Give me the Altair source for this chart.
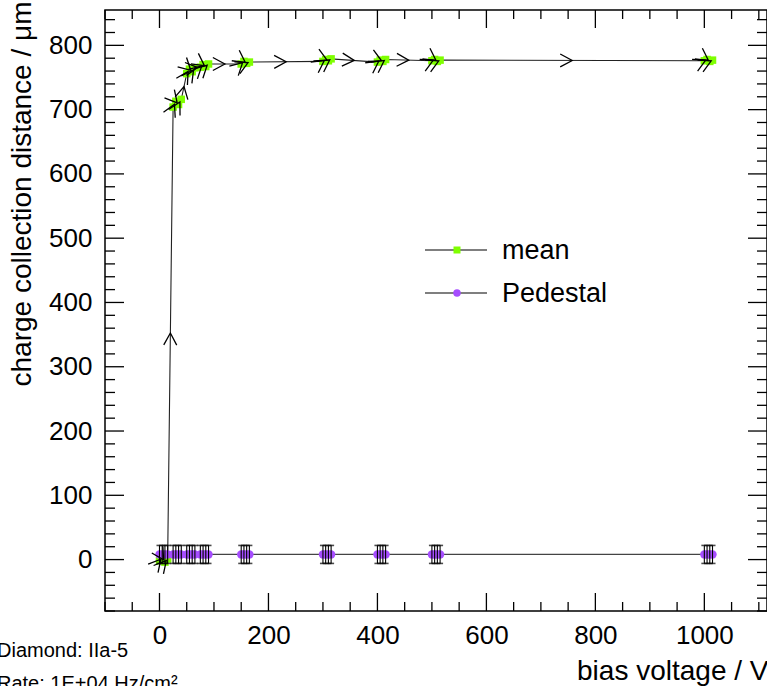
import math
import altair as alt
import pandas as pd

# ---------------- data ----------------
mean_voltage = [0, 5, 10, 15, 25, 30, 35, 40, 50, 55, 60, 65, 75, 80, 85, 90,
                150, 155, 160, 165, 300, 305, 310, 315, 400, 405, 410, 415,
                500, 505, 510, 515, 1000, 1005, 1010, 1015]
mean_ccd = [-2, 3, -4, 1, 704, 713, 708, 716, 756, 763, 759, 765,
            766, 770, 767, 771, 771, 775, 772, 774, 775, 778, 776, 779,
            774, 777, 775, 778, 776, 778, 775, 777, 776, 778, 775, 777]

ped_voltage = [0, 5, 10, 15, 25, 30, 35, 40, 50, 55, 60, 65, 75, 80, 85, 90,
               150, 155, 160, 165, 300, 305, 310, 315, 400, 405, 410, 415,
               500, 505, 510, 515, 1000, 1005, 1010, 1015]
ped_ccd = [8, 8, 8, 8, 8, 8, 8, 8, 8, 8, 8, 8, 8, 8, 8, 8, 8, 8, 8, 8,
           8, 8, 8, 8, 8, 8, 8, 8, 8, 8, 8, 8, 8, 8, 8, 8]
ped_err = [14] * 36

x_major = [0, 200, 400, 600, 800, 1000]
x_minor = [-100, -50, 50, 100, 150, 250, 300, 350, 450, 500, 550, 650, 700,
           750, 850, 900, 950, 1050, 1100]
y_major = [0, 100, 200, 300, 400, 500, 600, 700, 800]
y_minor = [v for v in range(-80, 855, 20) if v % 100 != 0]

legend_labels = ["mean", "Pedestal"]
info_lines = ["Diamond: IIa-5", "Rate: 1E+04 Hz/cm²"]

# ---------------- layout / style ----------------
W, H = 662, 601
XDOM = [-100, 1115]
YDOM = [-80, 855]
FONT = "Liberation Sans"
GREEN = "#7fff00"
PURPLE = "#a64dff"
LINE = "#222222"

xs = alt.Scale(domain=XDOM, nice=False, zero=False)
ys = alt.Scale(domain=YDOM, nice=False, zero=False)

x_axis = alt.Axis(values=x_major, ticks=False, domain=False, grid=False,
                  labelFont=FONT, labelFontSize=26, labelColor="black",
                  labelPadding=11, labelOverlap=False, labelFlush=False,
                  format="d",
                  title="bias voltage / V", titleFont=FONT, titleFontSize=28,
                  titleFontWeight="normal", titleColor="black",
                  titleX=W + 1, titleY=68, titleAlign="right",
                  titleBaseline="alphabetic")
y_axis = alt.Axis(values=y_major, ticks=False, domain=False, grid=False,
                  labelFont=FONT, labelFontSize=26, labelColor="black",
                  labelPadding=13, labelOverlap=False, labelFlush=False,
                  format="d",
                  title="charge collection distance / μm", titleFont=FONT,
                  titleFontSize=28, titleFontWeight="normal",
                  titleColor="black", titleAngle=270, titleX=-75, titleY=-9,
                  titleAlign="right", titleBaseline="alphabetic")

X = alt.X("v:Q", scale=xs, axis=x_axis)
Y = alt.Y("c:Q", scale=ys, axis=y_axis)

mean_df = pd.DataFrame({"v": mean_voltage, "c": mean_ccd,
                        "i": list(range(len(mean_voltage)))})
ped_df = pd.DataFrame({"v": ped_voltage, "c": ped_ccd,
                       "lo": [c - e for c, e in zip(ped_ccd, ped_err)],
                       "hi": [c + e for c, e in zip(ped_ccd, ped_err)],
                       "i": list(range(len(ped_voltage)))})

# arrowheads at segment midpoints (direction from data, in pixel space)
sx = W / (XDOM[1] - XDOM[0])
sy = H / (YDOM[1] - YDOM[0])
arr = []
for k in range(len(mean_voltage) - 1):
    x0, y0 = mean_voltage[k], mean_ccd[k]
    x1, y1 = mean_voltage[k + 1], mean_ccd[k + 1]
    ang = math.degrees(math.atan2(-(y1 - y0) * sy, (x1 - x0) * sx)) % 360
    arr.append({"v": (x0 + x1) / 2, "c": (y0 + y1) / 2, "a": ang})
arr_df = pd.DataFrame(arr)

mean_line = alt.Chart(mean_df).mark_line(color=LINE, strokeWidth=1.1).encode(
    x=X, y=Y, order="i:Q")
ped_line = alt.Chart(ped_df).mark_line(color="#444444", strokeWidth=1.3).encode(
    x=X, y=Y, order="i:Q")
mean_pts = alt.Chart(mean_df).mark_square(size=56, color=GREEN, opacity=1).encode(
    x=X, y=Y)
ped_pts = alt.Chart(ped_df).mark_circle(size=70, color=PURPLE, opacity=1).encode(
    x=X, y=Y)
ped_bar = alt.Chart(ped_df).mark_rule(color="black", strokeWidth=1.1).encode(
    x=X, y=alt.Y("lo:Q", scale=ys, axis=y_axis), y2="hi:Q")
ped_cap_lo = alt.Chart(ped_df).mark_tick(color="black", orient="horizontal",
                                         size=6, thickness=1.6).encode(
    x=X, y=alt.Y("lo:Q", scale=ys, axis=y_axis))
ped_cap_hi = alt.Chart(ped_df).mark_tick(color="black", orient="horizontal",
                                         size=6, thickness=1.6).encode(
    x=X, y=alt.Y("hi:Q", scale=ys, axis=y_axis))
arrows = alt.Chart(arr_df).mark_point(
    shape="M -1 -0.54 L 0 0 L -1 0.54", filled=False, stroke="black",
    strokeWidth=1.3, size=576, opacity=1).encode(
    x=X, y=Y, angle=alt.Angle("a:Q", scale=None))


def tick_layers(values, length):
    df = pd.DataFrame({"t": values})
    xb = alt.Chart(df).mark_rule(color="black", strokeWidth=1.3).encode(
        x=alt.X("t:Q", scale=xs, axis=x_axis), y=alt.value(H), y2=alt.value(H - length))
    xt = alt.Chart(df).mark_rule(color="black", strokeWidth=1.3).encode(
        x=alt.X("t:Q", scale=xs, axis=x_axis), y=alt.value(0), y2=alt.value(length))
    return [xb, xt]


def ytick_layers(values, length):
    df = pd.DataFrame({"t": values})
    yl = alt.Chart(df).mark_rule(color="black", strokeWidth=1.3).encode(
        y=alt.Y("t:Q", scale=ys, axis=y_axis), x=alt.value(0), x2=alt.value(length))
    yr = alt.Chart(df).mark_rule(color="black", strokeWidth=1.3).encode(
        y=alt.Y("t:Q", scale=ys, axis=y_axis), x=alt.value(W), x2=alt.value(W - length))
    return [yl, yr]


ticks = (tick_layers(x_major, 18) + tick_layers(x_minor, 9)
         + ytick_layers(y_major, 19) + ytick_layers(y_minor, 10))

# legend (manual, ROOT style)
legend_layers = []
leg_colors = [GREEN, PURPLE]
for k, lab in enumerate(legend_labels):
    ypix = 240 + 43 * k
    d = pd.DataFrame({"label": [lab]})
    legend_layers.append(alt.Chart(d).mark_rule(color="black", strokeWidth=1.2).encode(
        x=alt.value(320), x2=alt.value(382), y=alt.value(ypix)))
    if k == 0:
        mk = alt.Chart(d).mark_square(size=49, color=leg_colors[k], opacity=1)
    else:
        mk = alt.Chart(d).mark_circle(size=56, color=leg_colors[k], opacity=1)
    legend_layers.append(mk.encode(x=alt.value(352), y=alt.value(ypix)))
    legend_layers.append(alt.Chart(d).mark_text(
        align="left", baseline="middle", font=FONT, fontSize=27,
        color="black").encode(x=alt.value(397), y=alt.value(ypix + 1),
                              text="label:N"))

info_layers = []
for k, line in enumerate(info_lines):
    d = pd.DataFrame({"t": [line]})
    info_layers.append(alt.Chart(d).mark_text(
        align="left", baseline="alphabetic", font=FONT, fontSize=20,
        color="black").encode(x=alt.value(-108), y=alt.value(647 + 33 * k),
                              text="t:N"))

chart = alt.layer(
    mean_line, ped_line, mean_pts, ped_pts, ped_bar, ped_cap_lo, ped_cap_hi,
    arrows, *ticks, *legend_layers, *info_layers
).properties(
    width=W, height=H,
    padding={"left": 105, "top": 10, "right": 0, "bottom": 75},
    autosize=alt.AutoSizeParams(type="none"),
    background="white",
).configure_view(stroke="black", strokeWidth=1.5)

chart.save("out.html", embed_options={"renderer": "svg", "actions": False})
